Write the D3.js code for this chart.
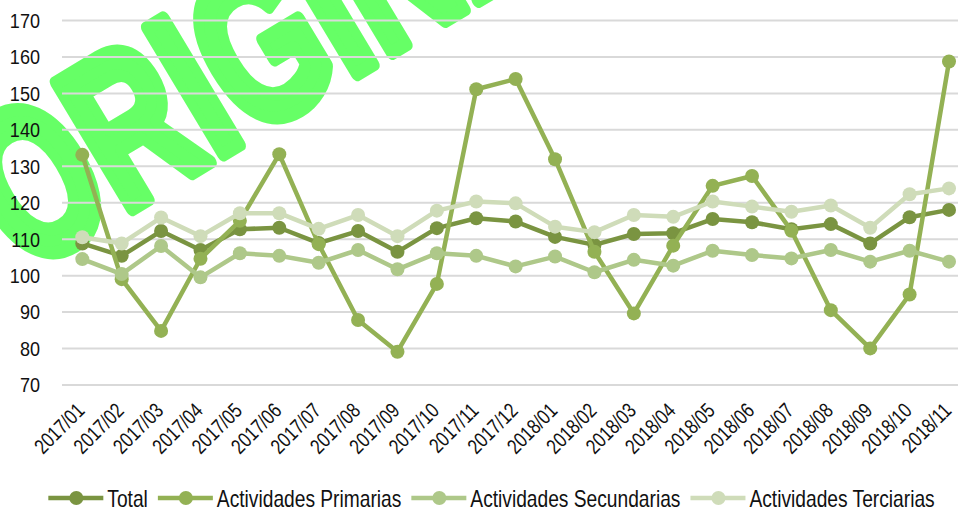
<!DOCTYPE html>
<html>
<head>
<meta charset="utf-8">
<script src="https://cdn.jsdelivr.net/npm/d3@7"></script>
<style>
  html, body { margin: 0; padding: 0; background: #fff; }
  svg { display: block; font-family: "Liberation Sans", Arial, sans-serif; }
</style>
</head>
<body>
<div id="chart"></div>
<script>
const months = [
  "2017/01", "2017/02", "2017/03", "2017/04", "2017/05", "2017/06",
  "2017/07", "2017/08", "2017/09", "2017/10", "2017/11", "2017/12",
  "2018/01", "2018/02", "2018/03", "2018/04", "2018/05", "2018/06",
  "2018/07", "2018/08", "2018/09", "2018/10", "2018/11",
];
const total = [108.7, 105.3, 112.1, 106.9, 112.6, 113.0, 108.8, 112.1, 106.4, 112.9, 115.6, 114.7,
  110.5, 108.3, 111.3, 111.5, 115.4, 114.5, 112.6, 114.0, 108.7, 115.9, 117.9];
const primarias = [133.0, 98.9, 84.7, 104.5, 114.9, 133.2, 108.5, 87.7, 79.0, 97.6, 151.0, 153.8,
  131.8, 106.4, 89.5, 108.1, 124.5, 127.2, 112.2, 90.4, 79.9, 94.7, 158.6];
const secundarias = [104.4, 100.3, 108.0, 99.4, 106.0, 105.3, 103.4, 106.9, 101.6, 106.0, 105.3, 102.4,
  105.1, 100.8, 104.2, 102.6, 106.7, 105.5, 104.6, 106.9, 103.7, 106.7, 103.7];
const terciarias = [110.4, 108.7, 115.8, 110.7, 117.0, 117.0, 112.7, 116.5, 110.7, 117.7, 120.2, 119.7,
  113.3, 111.8, 116.5, 116.0, 120.2, 118.8, 117.4, 119.1, 113.0, 122.2, 123.8];
const seriesNames = ["Total", "Actividades Primarias", "Actividades Secundarias", "Actividades Terciarias"];
const yTicks = [70, 80, 90, 100, 110, 120, 130, 140, 150, 160, 170];

const seriesValues = [total, primarias, secundarias, terciarias];
const colors = ["#7A9441", "#93B154", "#AEC889", "#CFDCB9"];

const W = 958, H = 510;
const plotLeft = 62;
const textSx = 0.8;

const svg = d3.select("#chart").append("svg")
  .attr("width", W)
  .attr("height", H)
  .attr("viewBox", `0 0 ${W} ${H}`);

// watermark, sits behind the grid
svg.append("text")
  .attr("transform", "translate(24,274) rotate(-31) scale(0.69,1)")
  .attr("font-size", 214)
  .attr("font-weight", "bold")
  .attr("fill", "#66FF66")
  .attr("stroke", "#66FF66")
  .attr("stroke-width", 12)
  .attr("vector-effect", "non-scaling-stroke")
  .attr("stroke-linejoin", "round")
  .text("ORIGINAL");

const x = d3.scalePoint().domain(months).range([82.3, 949]);
const y = d3.scaleLinear().domain([70, 170]).range([384.5, 20]);

// gridlines + y labels
const yAxis = d3.axisLeft(y).tickValues(yTicks).tickSize(-(W - plotLeft)).tickFormat(d3.format("d"));
const yG = svg.append("g")
  .attr("transform", `translate(${plotLeft},0)`)
  .call(yAxis);
yG.select(".domain").remove();
yG.selectAll(".tick line").attr("stroke", "#D9D9D9").attr("stroke-width", 2);
yG.selectAll(".tick text")
  .attr("x", 0)
  .attr("dy", "0.35em")
  .attr("transform", "translate(-22,0) scale(0.86,1)")
  .attr("font-size", 21)
  .attr("fill", "#111")
  .attr("text-anchor", "end");

// x labels
const xG = svg.append("g")
  .attr("transform", `translate(0,${y(70)})`)
  .call(d3.axisBottom(x).tickSize(0));
xG.select(".domain").remove();
xG.selectAll(".tick text")
  .attr("x", 0)
  .attr("y", 0)
  .attr("dy", 0)
  .attr("transform", `translate(3,27.5) rotate(-45) scale(${textSx},1)`)
  .attr("text-anchor", "end")
  .attr("font-size", 21)
  .attr("fill", "#111");

// series
const line = d3.line()
  .x((d, i) => x(months[i]))
  .y((d) => y(d));

seriesValues.forEach((vals, s) => {
  const g = svg.append("g").attr("class", "series");
  g.append("path")
    .datum(vals)
    .attr("d", line)
    .attr("fill", "none")
    .attr("stroke", colors[s])
    .attr("stroke-width", 4.5)
    .attr("stroke-linejoin", "round")
    .attr("stroke-linecap", "round");
  g.selectAll("circle")
    .data(vals)
    .enter()
    .append("circle")
    .attr("cx", (d, i) => x(months[i]))
    .attr("cy", (d) => y(d))
    .attr("r", 7)
    .attr("fill", colors[s]);
});

// legend
const legendY = 498;
const legend = svg.append("g");
const items = legend.selectAll(".legend")
  .data(seriesNames)
  .enter()
  .append("g")
  .attr("class", "legend");

items.append("line")
  .attr("x1", 0).attr("x2", 55)
  .attr("y1", legendY).attr("y2", legendY)
  .attr("stroke", (d, i) => colors[i])
  .attr("stroke-width", 4.5);
items.append("circle")
  .attr("cx", 28).attr("cy", legendY).attr("r", 7)
  .attr("fill", (d, i) => colors[i]);
items.append("text")
  .attr("transform", `translate(59,${legendY + 8.5}) scale(${textSx},1)`)
  .attr("font-size", 24)
  .attr("fill", "#111")
  .text((d) => d);

// lay the legend out centred
let offset = 0;
const starts = [];
items.each(function () {
  const w = d3.select(this).select("text").node().getComputedTextLength() * textSx;
  starts.push(offset);
  offset += 59 + w + 10;
});
offset -= 10;
const legendLeft = 491.5 - offset / 2;
items.attr("transform", (d, i) => `translate(${legendLeft + starts[i]},0)`);
</script>
</body>
</html>
